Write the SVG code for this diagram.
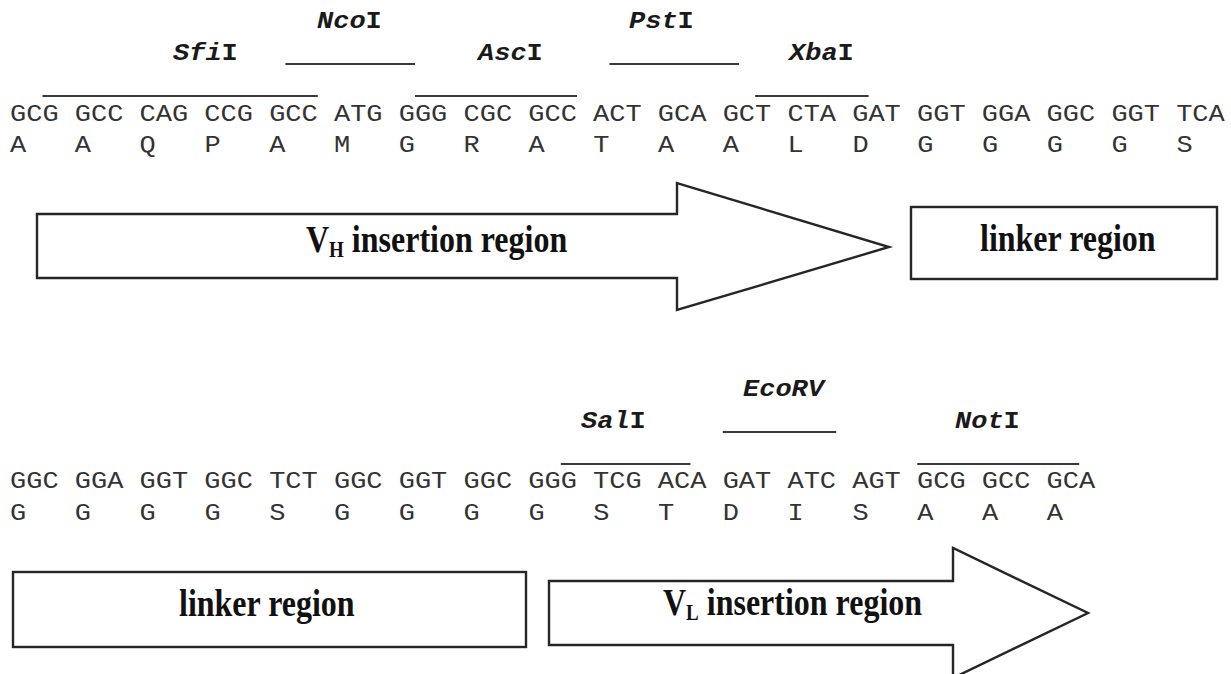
<svg xmlns="http://www.w3.org/2000/svg" width="1231" height="674" viewBox="0 0 1231 674">
<style>
.seq{font-family:"Liberation Mono","Courier New",monospace;font-size:27px;fill:#333}
.enz{font-family:"Liberation Mono","Courier New",monospace;font-size:27px;font-weight:bold;fill:#1a1a1a}
.it{font-style:italic}
.site{stroke:#3a3a3a;stroke-width:1.8;fill:none}
.shape{fill:#fff;stroke:#262626;stroke-width:2.4;stroke-linejoin:miter}
.lbl{font-family:"Liberation Serif","Times New Roman",serif;font-size:32px;font-weight:bold;fill:#111}
.sub{font-size:19px}
</style>
<rect width="1231" height="674" fill="#fff"/>

<g id="sequence-1">
<text class="seq" transform="translate(10,121) scale(1,0.86)" x="0" y="0">GCG GCC CAG CCG GCC ATG GGG CGC GCC ACT GCA GCT CTA GAT GGT GGA GGC GGT TCA</text>
<text class="seq" transform="translate(0,152) scale(1,0.86)" y="0" x="10 74.8 139.6 204.4 269.2 334 398.8 463.6 528.4 593.2 658 722.8 787.6 852.4 917.2 982 1046.8 1111.6 1176.4">AAQPAMGRATAALDGGGGS</text>
</g>

<g id="site-SfiI">
<text class="enz" transform="translate(173,60) scale(1,0.86)"><tspan class="it">Sfi</tspan>I</text>
<line class="site" x1="42.4" y1="96" x2="317.8" y2="96"/>
</g>
<g id="site-NcoI">
<text class="enz" transform="translate(317,28) scale(1,0.86)"><tspan class="it">Nco</tspan>I</text>
<line class="site" x1="285.4" y1="64" x2="415" y2="64"/>
</g>
<g id="site-AscI">
<text class="enz" transform="translate(478,60) scale(1,0.86)"><tspan class="it">Asc</tspan>I</text>
<line class="site" x1="415" y1="96" x2="577" y2="96"/>
</g>
<g id="site-PstI">
<text class="enz" transform="translate(629,28) scale(1,0.86)"><tspan class="it">Pst</tspan>I</text>
<line class="site" x1="609.4" y1="64" x2="739" y2="64"/>
</g>
<g id="site-XbaI">
<text class="enz" transform="translate(789,60) scale(1,0.86)"><tspan class="it">Xba</tspan>I</text>
<line class="site" x1="755.2" y1="96" x2="868.6" y2="96"/>
</g>

<g id="vh-insertion-region">
<polygon class="shape" points="37,214 677,214 677,183 889,247 677,310 677,278 37,278"/>
<text class="lbl" transform="translate(306,252) scale(1,1.2)">V<tspan class="sub" dy="4">H</tspan><tspan dy="-4"> insertion region</tspan></text>
</g>
<g id="linker-region-1">
<rect class="shape" x="911" y="207" width="306" height="72"/>
<text class="lbl" transform="translate(980,251) scale(1,1.2)">linker region</text>
</g>

<g id="sequence-2">
<text class="seq" transform="translate(10,488) scale(1,0.86)" x="0" y="0">GGC GGA GGT GGC TCT GGC GGT GGC GGG TCG ACA GAT ATC AGT GCG GCC GCA</text>
<text class="seq" transform="translate(0,520) scale(1,0.86)" y="0" x="10 74.8 139.6 204.4 269.2 334 398.8 463.6 528.4 593.2 658 722.8 787.6 852.4 917.2 982 1046.8">GGGGSGGGGSTDISAAA</text>
</g>

<g id="site-SalI">
<text class="enz" transform="translate(581,428) scale(1,0.86)"><tspan class="it">Sal</tspan>I</text>
<line class="site" x1="560.8" y1="464" x2="690.4" y2="464"/>
</g>
<g id="site-EcoRV">
<text class="enz" transform="translate(743,396) scale(1,0.86)"><tspan class="it">EcoRV</tspan></text>
<line class="site" x1="722.8" y1="432" x2="836.2" y2="432"/>
</g>
<g id="site-NotI">
<text class="enz" transform="translate(955,428) scale(1,0.86)"><tspan class="it">Not</tspan>I</text>
<line class="site" x1="917.2" y1="464" x2="1079.2" y2="464"/>
</g>

<g id="linker-region-2">
<rect class="shape" x="13" y="572" width="513" height="75"/>
<text class="lbl" transform="translate(179,616) scale(1,1.2)">linker region</text>
</g>
<g id="vl-insertion-region">
<polygon class="shape" points="549,581 953,581 953,548 1088,613 953,678 953,645 549,645"/>
<text class="lbl" transform="translate(663,615) scale(1,1.2)">V<tspan class="sub" dy="4">L</tspan><tspan dy="-4"> insertion region</tspan></text>
</g>

<g id="connectors"></g>
</svg>
